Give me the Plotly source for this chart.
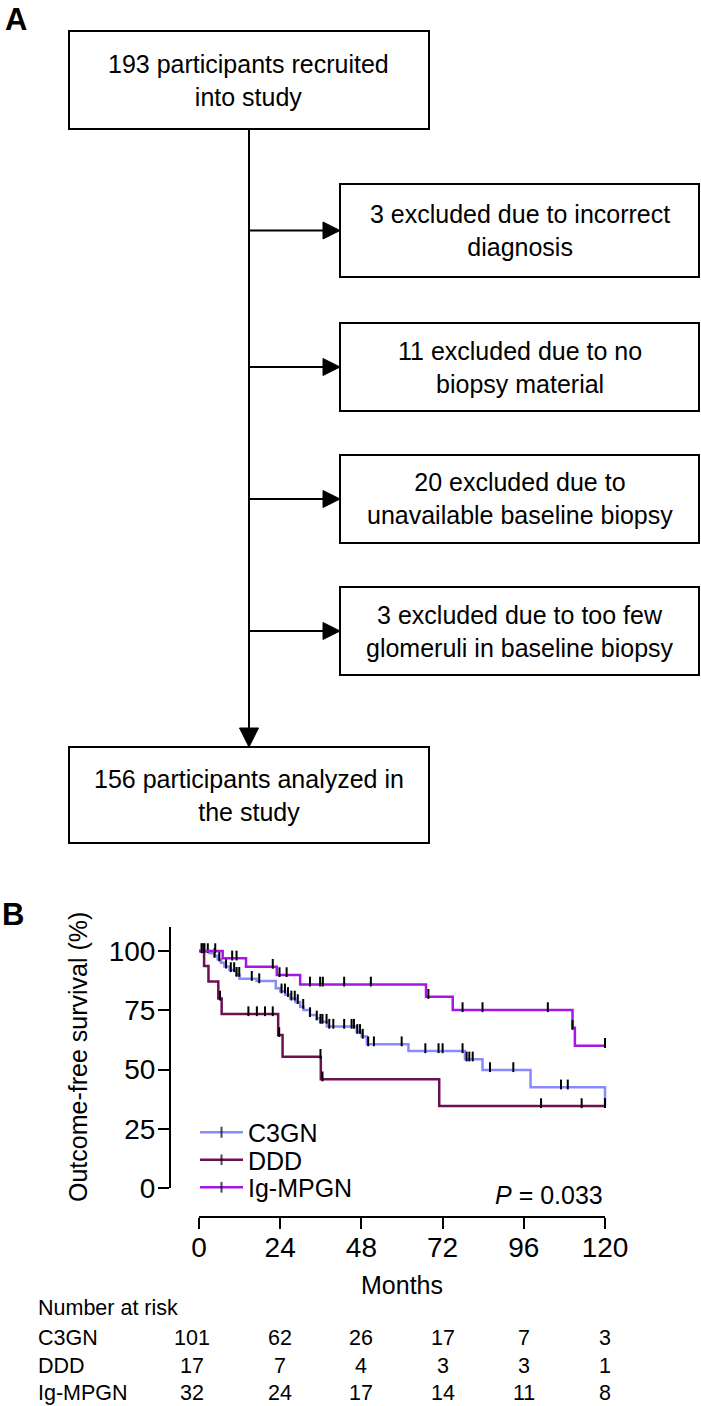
import plotly.graph_objects as go

# The photographed page is squeezed horizontally (717 px of page -> 701 px of picture),
# so the figure is laid out 717 px wide and everything is positioned in paper fractions
# of the 701x1406 reference.
REF_W, REF_H = 701, 1406
FIG_W, FIG_H = 717, 1406
FONT = "Liberation Sans, Arial, Helvetica, sans-serif"

# ---------------- data ----------------
flow_top_text = "193 participants recruited<br>into study"
flow_excluded_text = [
    "3 excluded due to incorrect<br>diagnosis",
    "11 excluded due to no<br>biopsy material",
    "20 excluded due to<br>unavailable baseline biopsy",
    "3 excluded due to too few<br>glomeruli in baseline biopsy",
]
flow_bottom_text = "156 participants analyzed in<br>the study"

group_names = ["C3GN", "DDD", "Ig-MPGN"]

c3gn_event_months = [3.2, 4.5, 5.5, 6.5, 7.5, 9.0, 11.0, 12.0, 17.0, 22.7, 24.0, 25.5,
                     27.0, 28.5, 29.9, 30.9, 32.8, 34.8, 35.8, 37.8, 46.6, 48.1, 49.6,
                     61.9, 78.6, 83.8, 98.0, 120.0]
c3gn_event_survival = [99.0, 98.0, 96.5, 95.0, 93.5, 92.0, 90.0, 88.3, 87.3, 84.3, 83.0, 81.5,
                       80.0, 78.5, 76.5, 75.1, 73.0, 71.6, 70.2, 68.1, 65.9, 63.9, 60.7,
                       57.8, 54.3, 49.8, 42.5, 34.6]
c3gn_censor_months = [0.8, 1.6, 2.6, 4.6, 6.0, 8.0, 9.4, 10.4, 11.1, 11.9, 15.6, 17.8, 24.4,
                      25.4, 26.3, 27.3, 28.3, 29.2, 30.8, 32.8, 34.8, 35.9, 36.5, 37.7, 38.5,
                      39.7, 42.9, 45.1, 45.8, 46.8, 47.6, 48.4, 50.0, 51.7, 59.9, 66.9, 70.8,
                      72.0, 77.9, 79.1, 79.9, 80.9, 86.0, 92.9, 107.0, 109.0, 120.0]

ddd_event_months = [1.5, 2.8, 5.7, 6.7, 23.4, 24.7, 36.0, 71.0]
ddd_event_survival = [93.7, 87.1, 80.0, 73.4, 64.6, 55.4, 45.9, 34.6]
ddd_censor_months = [6.2, 14.6, 17.1, 19.5, 21.8, 23.7, 35.9, 36.5, 101.1, 113.1, 120.0]

ig_event_months = [7.0, 13.9, 23.0, 29.9, 67.1, 75.0, 110.4, 111.1]
ig_event_survival = [96.9, 93.4, 89.9, 85.9, 80.7, 75.1, 67.6, 60.0]
ig_censor_months = [0.8, 1.5, 4.8, 9.8, 11.1, 21.8, 23.8, 25.9, 32.8, 35.8, 36.6, 42.9,
                    50.8, 67.8, 77.9, 83.8, 103.1, 110.4, 120.0]

risk_months = [0, 24, 48, 72, 96, 120]
risk_c3gn = [101, 62, 26, 17, 7, 3]
risk_ddd = [17, 7, 4, 3, 3, 1]
risk_ig = [32, 24, 17, 14, 11, 8]

y_ticks = [0, 25, 50, 75, 100]
p_value_text = "<i>P</i> = 0.033"

# ---------------- style ----------------
colors = ["#8a8aff", "#6b1150", "#a516e6"]
CENSOR_SIZE = 7          # px, length of the censor tick
LEGEND_TICK_SIZE = 8


def px(x):
    return x / REF_W


def py(y):
    return 1 - y / REF_H


PX_PER_MONTH = (605 - 199) / 120.0
PX_PER_UNIT = (1188 - 951) / 100.0
CENSOR_LIFT = 2.8 / PX_PER_UNIT   # censor ticks sit on top of the curve


def survival_at(t, ev_t, ev_s):
    s = 100.0
    for et, es in zip(ev_t, ev_s):
        if et <= t:
            s = es
    return s


def km_arrays(ev_t, ev_s, cens_t):
    pts = [(0.0, 100.0, 0)]
    pts += [(t, s, 0) for t, s in zip(ev_t, ev_s)]
    pts += [(t, survival_at(t, ev_t, ev_s), 1) for t in cens_t]
    pts.sort(key=lambda p: (p[0], -p[1]))
    return [p[0] for p in pts], [p[1] for p in pts], [p[2] for p in pts]


fig = go.Figure()

series = [
    (c3gn_event_months, c3gn_event_survival, c3gn_censor_months),
    (ddd_event_months, ddd_event_survival, ddd_censor_months),
    (ig_event_months, ig_event_survival, ig_censor_months),
]
legend_ids = ["legend", "legend2", "legend3"]
legend_rows = [1132.5, 1160, 1187.5]

for name, col, lid, (et, es, ct) in zip(group_names, colors, legend_ids, series):
    xs, ys, cflag = km_arrays(et, es, ct)
    n = len(xs)
    # step curve; its (invisible on the plot) markers only give the legend its tick
    fig.add_trace(go.Scatter(
        x=xs, y=ys, mode="lines+markers", name=name, legend=lid, showlegend=True,
        line=dict(color=col, width=2.5, shape="hv"),
        marker=dict(symbol="line-ns", size=[0] + [LEGEND_TICK_SIZE] * (n - 1),
                    color="rgba(0,0,0,0)",
                    line=dict(color=["black"] + ["rgba(0,0,0,0)"] * (n - 1), width=2)),
        cliponaxis=False, hoverinfo="skip",
    ))
    # censor ticks
    fig.add_trace(go.Scatter(
        x=list(ct), y=[survival_at(t, et, es) + CENSOR_LIFT for t in ct],
        mode="markers", showlegend=False, legend=lid,
        marker=dict(symbol="line-ns", size=CENSOR_SIZE, color="black",
                    line=dict(color="black", width=2)),
        cliponaxis=False, hoverinfo="skip",
    ))

# ---------------- axes ----------------
x_range = [(170 - 199) / PX_PER_MONTH, (612 - 199) / PX_PER_MONTH]
y_range = [(1188 - 1217) / PX_PER_UNIT, (1188 - 927) / PX_PER_UNIT]

axis_common = dict(ticks="outside", ticklen=11, tickwidth=2, tickcolor="black",
                   showline=False, showgrid=False, zeroline=False,
                   tickfont=dict(family=FONT, size=28, color="black"))

fig.update_layout(
    width=FIG_W, height=FIG_H,
    autosize=False,
    showlegend=True,
    margin=dict(l=0, r=0, t=0, b=0, pad=0),
    paper_bgcolor="white", plot_bgcolor="white",
    font=dict(family=FONT, color="black"),
    xaxis=dict(domain=[px(170), px(612)], range=x_range, tickvals=risk_months,
               ticklabelstandoff=-6, **axis_common),
    yaxis=dict(domain=[py(1217), py(927)], range=y_range, tickvals=y_ticks,
               ticklabelstandoff=-3, **axis_common),
)

for lid, row in zip(legend_ids, legend_rows):
    fig.update_layout({lid: dict(x=px(195), y=py(row), xanchor="left", yanchor="middle",
                                 font=dict(family=FONT, size=25, color="black"),
                                 itemwidth=43, bgcolor="rgba(0,0,0,0)", borderwidth=0,
                                 itemsizing="trace", tracegroupgap=0, visible=True)})

shapes = []
# axis lines (offset style)
shapes.append(dict(type="line", xref="x domain", yref="y", x0=0, x1=0, y0=0, y1=y_range[1],
                   line=dict(color="black", width=2)))
shapes.append(dict(type="line", xref="x", yref="y domain", x0=0, x1=120, y0=0, y1=0,
                   line=dict(color="black", width=2)))

# ---------------- flowchart ----------------
LW = 2
top_box = (69, 31, 429, 129)
excl_boxes = [(340, 184, 699, 277), (340, 323, 699, 411), (340, 455, 699, 543), (340, 587, 699, 675)]
bottom_box = (69, 747, 429, 843)
trunk_x = 249


def rect(b):
    return dict(type="rect", xref="paper", yref="paper", x0=px(b[0]), x1=px(b[2]),
                y0=py(b[3]), y1=py(b[1]), line=dict(color="black", width=LW),
                fillcolor="white", layer="above")


def tri(points):
    d = "M " + " L ".join(f"{px(a)},{py(b)}" for a, b in points) + " Z"
    return dict(type="path", xref="paper", yref="paper", path=d,
                fillcolor="black", line=dict(color="black", width=1))


shapes.append(dict(type="line", xref="paper", yref="paper", x0=px(trunk_x), x1=px(trunk_x),
                   y0=py(top_box[3]), y1=py(bottom_box[1] - 14), line=dict(color="black", width=LW)))
shapes.append(tri([(trunk_x - 9.5, bottom_box[1] - 19), (trunk_x + 9.5, bottom_box[1] - 19),
                   (trunk_x, bottom_box[1])]))
for b in excl_boxes:
    yc = (b[1] + b[3]) / 2
    shapes.append(dict(type="line", xref="paper", yref="paper", x0=px(trunk_x), x1=px(b[0] - 12),
                       y0=py(yc), y1=py(yc), line=dict(color="black", width=LW)))
    shapes.append(tri([(b[0] - 17, yc - 8.5), (b[0] - 17, yc + 8.5), (b[0], yc)]))
shapes.append(rect(top_box))
for b in excl_boxes:
    shapes.append(rect(b))
shapes.append(rect(bottom_box))

annotations = []


def box_text(b, text):
    return dict(text=text, xref="paper", yref="paper", x=px((b[0] + b[2]) / 2),
                y=py((b[1] + b[3]) / 2), xanchor="center", yanchor="middle",
                showarrow=False, align="center", font=dict(family=FONT, size=25, color="black"))


annotations.append(box_text(top_box, flow_top_text))
for b, t in zip(excl_boxes, flow_excluded_text):
    annotations.append(box_text(b, t))
annotations.append(box_text(bottom_box, flow_bottom_text))

# panel letters
annotations.append(dict(text="<b>A</b>", xref="paper", yref="paper", x=px(3), y=py(20),
                        xanchor="left", yanchor="middle", showarrow=False,
                        font=dict(family=FONT, size=31, color="black")))
annotations.append(dict(text="<b>B</b>", xref="paper", yref="paper", x=px(0), y=py(914),
                        xanchor="left", yanchor="middle", showarrow=False,
                        font=dict(family=FONT, size=31, color="black")))

# KM titles
annotations.append(dict(text="Outcome-free survival (%)", xref="paper", yref="paper",
                        x=px(78), y=py(1057), xanchor="center", yanchor="middle",
                        textangle=-90, showarrow=False,
                        font=dict(family=FONT, size=25, color="black")))
annotations.append(dict(text="Months", xref="paper", yref="paper", x=px(402), y=py(1285),
                        xanchor="center", yanchor="middle", showarrow=False,
                        font=dict(family=FONT, size=25, color="black")))
annotations.append(dict(text=p_value_text, xref="x", yref="paper", x=120, y=py(1195),
                        xanchor="right", yanchor="middle", showarrow=False,
                        font=dict(family=FONT, size=25, color="black")))

# number at risk table
TABLE_FONT = dict(family=FONT, size=21.5, color="black")
annotations.append(dict(text="Number at risk", xref="paper", yref="paper", x=px(36), y=py(1308),
                        xanchor="left", yanchor="middle", showarrow=False, font=TABLE_FONT))
table_rows = [1338, 1366, 1393]
for name, counts, row in zip(group_names, [risk_c3gn, risk_ddd, risk_ig], table_rows):
    annotations.append(dict(text=name, xref="paper", yref="paper", x=px(36), y=py(row),
                            xanchor="left", yanchor="middle", showarrow=False, font=TABLE_FONT))
    for i, (m, c) in enumerate(zip(risk_months, counts)):
        annotations.append(dict(text=str(c), xref="x", yref="paper", x=m, y=py(row),
                                xanchor="center", yanchor="middle", showarrow=False,
                                xshift=-7 if i == 0 else 0, font=TABLE_FONT))

fig.update_layout(shapes=shapes, annotations=annotations)
fig.write_html("out.html", config={"displayModeBar": False, "responsive": False},
               post_script="document.body.style.margin='0px';document.body.style.overflow='hidden';")
